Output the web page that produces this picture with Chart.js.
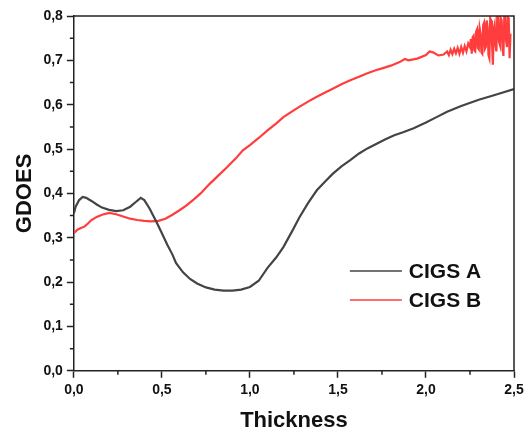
<!DOCTYPE html>
<html>
<head>
<meta charset="utf-8">
<script src="https://cdn.jsdelivr.net/npm/chart.js@4"></script>
<style>
  body { margin: 0; background: #fff; }
  #wrap { width: 529px; height: 439px; }
</style>
</head>
<body>
<div id="wrap"><canvas id="myChart"></canvas></div>
<script>
// CIGS A (dark grey curve)
const thickA = [0.00, 0.01, 0.03, 0.05, 0.07, 0.10, 0.13, 0.16, 0.20, 0.24, 0.28, 0.32, 0.35, 0.38, 0.40,
  0.43, 0.47, 0.50, 0.53, 0.56, 0.58, 0.62, 0.66, 0.70, 0.75, 0.80, 0.85, 0.90, 0.95, 1.00, 1.05,
  1.10, 1.15, 1.19, 1.24, 1.28, 1.33, 1.38, 1.43, 1.47, 1.52, 1.57, 1.62, 1.67, 1.72, 1.77, 1.82,
  1.87, 1.93, 2.00, 2.06, 2.12, 2.20, 2.30, 2.40, 2.50];
const gdoesA = [0.355, 0.370, 0.385, 0.392, 0.390, 0.383, 0.375, 0.368, 0.363, 0.360, 0.362, 0.370, 0.380, 0.390, 0.385,
  0.366, 0.335, 0.310, 0.285, 0.262, 0.243, 0.222, 0.207, 0.197, 0.188, 0.183, 0.181, 0.181, 0.183, 0.189, 0.203,
  0.232, 0.256, 0.279, 0.315, 0.345, 0.378, 0.407, 0.428, 0.444, 0.461, 0.475, 0.490, 0.502, 0.512, 0.522, 0.531,
  0.538, 0.547, 0.560, 0.572, 0.584, 0.597, 0.611, 0.623, 0.635];

// CIGS B (red curve), noisy towards the end
const thickB = [0.00, 0.02, 0.04, 0.06, 0.08, 0.10, 0.13, 0.16, 0.20, 0.24, 0.28, 0.32, 0.36, 0.40, 0.44,
  0.48, 0.52, 0.56, 0.60, 0.64, 0.68, 0.72, 0.77, 0.82, 0.87, 0.92, 0.96, 1.00, 1.05, 1.10, 1.15,
  1.19, 1.24, 1.28, 1.33, 1.38, 1.43, 1.47, 1.52, 1.57, 1.62, 1.66, 1.71, 1.76, 1.80, 1.85, 1.88,
  1.90, 1.95, 2.00, 2.02, 2.04, 2.07, 2.10, 2.12, 2.13, 2.14, 2.15, 2.16, 2.17, 2.18, 2.19, 2.20,
  2.21, 2.22, 2.23, 2.24, 2.25, 2.255, 2.26, 2.265, 2.27, 2.275, 2.28, 2.285, 2.29, 2.295, 2.30, 2.305,
  2.31, 2.315, 2.32, 2.325, 2.33, 2.335, 2.34, 2.345, 2.35, 2.355, 2.36, 2.365, 2.37, 2.375, 2.38, 2.385,
  2.39, 2.395, 2.40, 2.405, 2.41, 2.415, 2.42, 2.425, 2.43, 2.435, 2.44, 2.445, 2.45, 2.455, 2.46, 2.465,
  2.47, 2.475, 2.48];
const gdoesB = [0.310, 0.318, 0.322, 0.325, 0.332, 0.340, 0.347, 0.352, 0.356, 0.353, 0.348, 0.343, 0.340, 0.338, 0.337,
  0.338, 0.343, 0.352, 0.362, 0.373, 0.386, 0.400, 0.421, 0.440, 0.459, 0.479, 0.497, 0.509, 0.525, 0.542, 0.558,
  0.572, 0.585, 0.595, 0.607, 0.618, 0.628, 0.636, 0.646, 0.655, 0.663, 0.670, 0.677, 0.683, 0.688, 0.696, 0.703,
  0.700, 0.704, 0.712, 0.720, 0.718, 0.711, 0.713, 0.720, 0.712, 0.724, 0.714, 0.726, 0.716, 0.728, 0.715, 0.730,
  0.717, 0.732, 0.720, 0.738, 0.730, 0.748, 0.715, 0.752, 0.755, 0.722, 0.720, 0.765, 0.770, 0.728, 0.725, 0.772,
  0.760, 0.718, 0.715, 0.780, 0.785, 0.726, 0.730, 0.790, 0.775, 0.712, 0.705, 0.795, 0.790, 0.740, 0.690, 0.770,
  0.780, 0.735, 0.720, 0.800, 0.800, 0.742, 0.735, 0.795, 0.790, 0.725, 0.710, 0.800, 0.800, 0.745, 0.730, 0.798,
  0.795, 0.705, 0.760];

const seriesNames = ["CIGS A", "CIGS B"];
const seriesColors = ["#444444", "#ff3d3d"];

const xTicksMajor = 0.5;
const yTicksMajor = 0.1;

function toPoints(xs, ys) {
  return xs.map((x, i) => ({ x: x, y: ys[i] }));
}

function fmt(v) {
  return Number(v).toFixed(1).replace(".", ",");
}

const FONT = "'Liberation Sans', Arial, sans-serif";

// frame, minor ticks and legend inside the plot
const extras = {
  id: "extras",
  afterDraw(chart) {
    const { ctx, chartArea: a, scales } = chart;
    ctx.save();
    ctx.strokeStyle = "#222";
    ctx.lineWidth = 1.5;
    ctx.beginPath();
    ctx.moveTo(a.left, a.top);
    ctx.lineTo(a.right, a.top);
    ctx.lineTo(a.right, a.bottom);
    ctx.stroke();

    ctx.beginPath();
    for (let v = 0.25; v < 2.5; v += 0.5) {
      const px = scales.x.getPixelForValue(v);
      ctx.moveTo(px, a.bottom);
      ctx.lineTo(px, a.bottom + 4);
    }
    for (let v = 0.05; v < 0.8; v += 0.1) {
      const py = scales.y.getPixelForValue(v);
      ctx.moveTo(a.left, py);
      ctx.lineTo(a.left - 4, py);
    }
    ctx.stroke();

    ctx.font = "bold 21px " + FONT;
    ctx.textBaseline = "middle";
    ctx.fillStyle = "#111";
    seriesNames.forEach((name, i) => {
      const y = a.top + 255 + i * 29;
      ctx.strokeStyle = seriesColors[i];
      ctx.lineWidth = 1.5;
      ctx.beginPath();
      ctx.moveTo(a.left + 276, y);
      ctx.lineTo(a.left + 328, y);
      ctx.stroke();
      ctx.fillText(name, a.left + 335, y + 1);
    });
    ctx.restore();
  },
};

const ctx = document.getElementById("myChart").getContext("2d");
new Chart(ctx, {
  type: "line",
  data: {
    datasets: [
      { label: seriesNames[0], data: toPoints(thickA, gdoesA), borderColor: seriesColors[0] },
      { label: seriesNames[1], data: toPoints(thickB, gdoesB), borderColor: seriesColors[1] },
    ],
  },
  options: {
    responsive: true,
    maintainAspectRatio: false,
    animation: false,
    layout: { padding: { top: 16, right: 15, bottom: 5, left: 4 } },
    elements: {
      point: { radius: 0 },
      line: { borderWidth: 2.2, tension: 0, fill: false },
    },
    plugins: { legend: { display: false }, tooltip: { enabled: false } },
    scales: {
      x: {
        type: "linear",
        min: 0,
        max: 2.5,
        ticks: {
          stepSize: xTicksMajor,
          callback: fmt,
          color: "#111",
          padding: 4,
          maxRotation: 0,
          font: { family: FONT, size: 14, weight: "bold" },
        },
        grid: { drawOnChartArea: false, tickLength: 7, tickColor: "#222", tickWidth: 1.5 },
        border: { color: "#222", width: 1.5 },
        title: {
          display: true,
          text: "Thickness",
          color: "#111",
          font: { family: FONT, size: 22, weight: "bold" },
          padding: { top: 5, bottom: 0 },
        },
      },
      y: {
        min: 0,
        max: 0.8,
        ticks: {
          stepSize: yTicksMajor,
          callback: fmt,
          color: "#111",
          padding: 4,
          font: { family: FONT, size: 14, weight: "bold" },
        },
        grid: { drawOnChartArea: false, tickLength: 7, tickColor: "#222", tickWidth: 1.5 },
        border: { color: "#222", width: 1.5 },
        title: {
          display: true,
          text: "GDOES",
          color: "#111",
          font: { family: FONT, size: 22, weight: "bold" },
          padding: { top: 8, bottom: 1 },
        },
      },
    },
  },
  plugins: [extras],
});
</script>
</body>
</html>
